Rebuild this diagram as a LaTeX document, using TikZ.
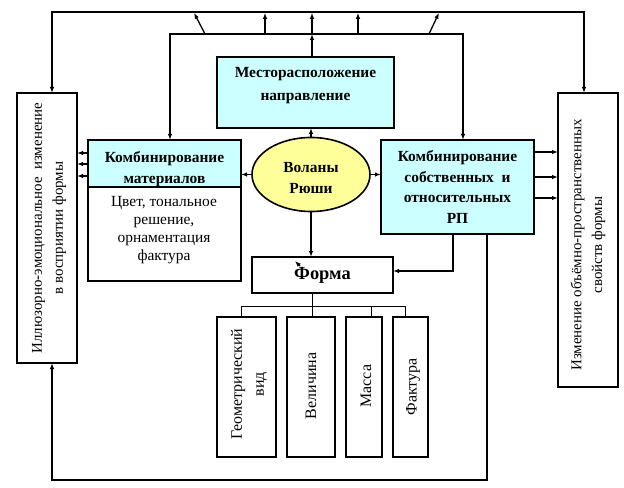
\documentclass[tikz,border=0pt]{standalone}
\usepackage{fontspec}
\setmainfont{Liberation Serif}
\usetikzlibrary{arrows.meta,shapes.geometric,positioning}
\definecolor{paleblue}{HTML}{CCFFFF}
\definecolor{paleyellow}{HTML}{FFFF99}

\begin{document}
\begin{tikzpicture}[x=1bp,y=-1bp,
  >={Latex[length=6bp,width=4.5bp]},
  frame/.style={draw, line width=1.6bp, inner sep=0pt, outer sep=0pt},
  line/.style={line width=1.3bp},
  twig/.style={line width=0.8bp},
  head/.style={font=\fontsize{15.5}{21}\selectfont\bfseries, align=center},
  txt/.style={font=\fontsize{15.5}{18}\selectfont, align=center},
  side/.style={font=\fontsize{15}{21}\selectfont, align=center, rotate=90},
  sub/.style={font=\fontsize{16}{22}\selectfont, align=center, rotate=90}]
\useasboundingbox (0,0) rectangle (624,488);

% side boxes
\node[frame, minimum width=60bp, minimum height=270bp] (illus) at (47,228) {};
\node[side] (illusT) at (49,228) {Иллюзорно-эмоциональное\enspace изменение\\в восприятии формы};
\node[frame, minimum width=60bp, minimum height=294bp] (izm) at (588,240) {};
\node[side] (izmT) at (588,245) {Изменение объёмно-пространственных\\свойств формы};

% top box
\node[frame, fill=paleblue, minimum width=177bp, minimum height=71bp] (mesto) at (305.5,92.5) {};
\node[head, font=\fontsize{15.5}{23}\selectfont\bfseries] (mestoT) at (305.5,86) {Месторасположение\\направление};

% materials
\node[frame, fill=paleblue, minimum width=153bp, minimum height=47bp] (kombm) at (164.5,163.5) {};
\node[head] (kombmH) at (164.5,169.5) {Комбинирование\\материалов};
\node[frame, fill=white, minimum width=153bp, minimum height=94bp, below=0pt of kombm] (kombmB) {};
\node[txt] (kombmT) at (164,230) {Цвет, тональное\\решение,\\орнаментация\\фактура};

% centre
\node[frame, ellipse, fill=paleyellow, minimum width=118bp, minimum height=74bp] (vol) at (311,174.5) {};
\node[head] (volT) at (311,178) {Воланы\\Рюши};
\node[frame, fill=paleblue, minimum width=153bp, minimum height=94bp, head, font=\fontsize{15.5}{20.7}\selectfont\bfseries] (kombs) at (457.5,187) {Комбинирование\\собственных\enspace и\\относительных\\РП};
\node[frame, minimum width=141bp, minimum height=36bp, font=\fontsize{18.5}{20}\selectfont\bfseries] (forma) at (322.5,275) {Форма};

% form parts
\node[frame, minimum width=59bp, minimum height=140bp] (geom) at (246.5,387) {};
\node[sub] (geomT) at (249,384) {Геометрический\\вид};
\node[frame, minimum width=48bp, minimum height=140bp] (vel) at (311,387) {};
\node[sub] (velT) at (311,386) {Величина};
\node[frame, minimum width=36bp, minimum height=140bp] (mas) at (364,387) {};
\node[sub] (masT) at (366,386) {Масса};
\node[frame, minimum width=35bp, minimum height=140bp] (fak) at (410.5,387) {};
\node[sub] (fakT) at (413,387) {Фактура};

% upper lines
\coordinate (tl) at (52,12);
\coordinate (tr) at (584,12);
\coordinate (il) at (170,34);
\coordinate (ir) at (463,34);
\coordinate (cm) at (312,34);
\draw[line,<->] (tl |- illus.north) -- (tl) -- (tr) -- (tr |- izm.north);
\draw[line,<->] (il |- kombm.north) -- (il) -- (ir) -- (ir |- kombs.north);
\foreach \a/\b in {205/194,265/265,358/358,429/439}
  \draw[line,->] (\a,34) -- (\b,12.8);
\draw[line,->] (mesto.north -| cm) -- (cm);
\draw[line,->] (cm) -- (cm |- 0,12.8);

% from the ellipse
\draw[line,->] (vol.north) -- (vol.north |- mesto.south);
\draw[line,->] (vol.west) -- (vol.west -| kombm.east);
\draw[line,->] (vol.east) -- (vol.east -| kombs.west);
\draw[line,->] (vol.south) -- (vol.south |- forma.north);

% side arrows
\foreach \y in {153,164,176}{
  \coordinate (h) at (0,\y);
  \draw[line,->] (kombm.west |- h) -- (illus.east |- h);}
\foreach \y in {152,177,198}{
  \coordinate (h) at (0,\y);
  \draw[line,->] (kombs.east |- h) -- (izm.west |- h);}

% from the right box
\coordinate (kf) at (453,271);
\coordinate (kb) at (487,480);
\draw[line,->] (kombs.south -| kf) -- (kf) -- (kf -| forma.east);
\draw[line,->] (kombs.south -| kb) -- (kb) -- (kb -| tl) -- (tl |- illus.south);
\draw[line,->] (300,266) -- (295,261);

% tree
\coordinate (tj) at (312,306);
\coordinate (ga) at (241,306);
\coordinate (ma) at (371,306);
\coordinate (fa) at (405,306);
\draw[twig] (forma.south -| tj) -- (tj |- vel.north);
\draw[twig] (ga |- geom.north) -- (ga) -- (fa) -- (fa |- fak.north);
\draw[twig] (ma) -- (ma |- mas.north);
\end{tikzpicture}
\end{document}
